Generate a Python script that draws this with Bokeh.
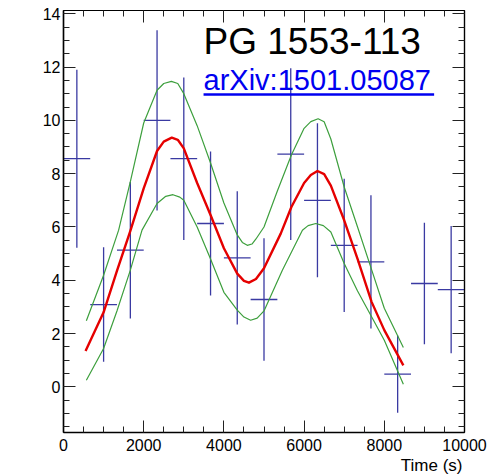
from bokeh.plotting import figure
from bokeh.models import (Range1d, LinearAxis, SingleIntervalTicker, Label, Title,
                          BoxAnnotation, ColumnDataSource, CustomLabelingPolicy)
from bokeh.embed import file_html
from bokeh.resources import INLINE

# ---- data ----
time_s = [333, 1000, 1667, 2333, 3000, 3667, 4333, 5000, 5667, 6333, 7000, 7667, 8333, 9000, 9667]
excess = [8.56, 3.09, 5.13, 10.0, 8.56, 6.13, 4.84, 3.28, 8.73, 7.0, 5.31, 4.69, 0.48, 3.88, 3.65]
excess_err = [3.34, 2.15, 2.56, 3.38, 3.05, 2.7, 2.5, 2.3, 3.22, 2.89, 2.5, 2.5, 1.45, 2.28, 2.39]
time_halfbin = [333.3, 333.3, 333.3, 333.3, 333.3, 333.3, 333.3, 333.3, 333.3, 333.3, 333.3, 333.3, 333.3, 333.3, 333.3]

fit_t = [550, 1000, 1333, 1667, 2000, 2333, 2500, 2700, 2850, 3000, 3333, 3667, 4000, 4333, 4500, 4625,
         4800, 5000, 5417, 5683, 6000, 6167, 6333, 6500, 6667, 7000, 7333, 7683, 8000, 8475]
fit_y = [1.35, 2.80, 4.35, 5.85, 7.45, 8.85, 9.2, 9.35, 9.27, 8.95, 7.65, 6.45, 5.20, 4.25, 3.98, 3.91,
         4.05, 4.45, 5.75, 6.75, 7.65, 7.95, 8.10, 7.98, 7.55, 6.25, 4.8, 3.19, 2.13, 0.81]

upper_t = [570, 1000, 1375, 1667, 2000, 2333, 2500, 2690, 2850, 3000, 3333, 3667, 4000, 4333, 4460, 4583,
           4700, 4800, 5000, 5333, 5683, 6000, 6167, 6350, 6500, 6667, 7000, 7333, 7683, 8000, 8475]
upper_y = [2.48, 4.19, 5.88, 7.7, 9.9, 11.13, 11.38, 11.46, 11.38, 11.0, 9.8, 8.4, 6.9, 5.7, 5.42, 5.31,
           5.36, 5.55, 6.0, 7.35, 8.7, 9.7, 9.95, 10.06, 9.95, 9.3, 7.5, 6.0, 4.4, 2.95, 1.48]

lower_t = [570, 1000, 1333, 1667, 1958, 2333, 2550, 2730, 2900, 3000, 3333, 3667, 4000, 4333, 4500, 4667,
           4830, 5000, 5458, 5958, 6100, 6292, 6480, 6667, 7000, 7333, 7683, 8000, 8475]
lower_y = [0.25, 1.44, 2.85, 4.38, 5.88, 6.88, 7.15, 7.21, 7.12, 7.0, 6.0, 4.8, 3.55, 2.88, 2.62, 2.5,
           2.58, 2.85, 4.38, 5.88, 6.05, 6.13, 6.05, 5.81, 4.63, 3.6, 2.63, 1.75, 0.1]

x_ticks_interval = 2000
y_ticks_interval = 2

# ---- figure ----
p = figure(width=490, height=475, output_backend="svg", toolbar_location=None,
           x_range=Range1d(0, 10000), y_range=Range1d(-1.71, 14.12),
           min_border_left=63, min_border_right=26, min_border_top=10, min_border_bottom=43)
p.background_fill_color = "white"
p.border_fill_color = "white"
p.outline_line_color = "black"
p.outline_line_width = 1.2
p.xgrid.visible = False
p.ygrid.visible = False

FONT = "Liberation Sans"

def style_axis(ax, show_labels=True, width=1.5):
    ax.axis_line_color = "black"
    ax.axis_line_width = width
    ax.major_tick_in = 12
    ax.major_tick_out = 0
    ax.minor_tick_in = 6
    ax.minor_tick_out = 0
    ax.major_tick_line_color = "#222222"
    ax.minor_tick_line_color = "#222222"
    ax.major_tick_line_width = 1
    ax.minor_tick_line_width = 1
    ax.major_label_text_font = FONT
    ax.major_label_text_color = "black"
    if show_labels:
        ax.major_label_text_font_size = "16px"
    else:
        ax.major_label_text_font_size = "1px"
        ax.major_label_standoff = 0
        ax.major_label_policy = CustomLabelingPolicy(code="return []")

xa = p.xaxis[0]
xa.ticker = SingleIntervalTicker(interval=x_ticks_interval, num_minor_ticks=4)
style_axis(xa)
xa.major_label_standoff = 6

ya = p.yaxis[0]
ya.ticker = SingleIntervalTicker(interval=y_ticks_interval, num_minor_ticks=4)
style_axis(ya)
ya.major_label_standoff = 3

ra = LinearAxis(ticker=SingleIntervalTicker(interval=y_ticks_interval, num_minor_ticks=4))
style_axis(ra, show_labels=False, width=1.2)
p.add_layout(ra, "right")

ta = LinearAxis(ticker=SingleIntervalTicker(interval=x_ticks_interval, num_minor_ticks=4))
style_axis(ta, show_labels=False, width=1.2)
p.add_layout(ta, "above")

# ---- data points with error bars ----
src = ColumnDataSource(dict(
    t=time_s, y=excess,
    ylo=[v - e for v, e in zip(excess, excess_err)],
    yhi=[v + e for v, e in zip(excess, excess_err)],
    tlo=[t - h for t, h in zip(time_s, time_halfbin)],
    thi=[t + h for t, h in zip(time_s, time_halfbin)],
))
bar_color = "#3a3aa2"
p.segment(x0="t", y0="ylo", x1="t", y1="yhi", source=src, line_color=bar_color, line_width=1.3)
p.segment(x0="tlo", y0="y", x1="thi", y1="y", source=src, line_color=bar_color, line_width=1.3)

# ---- fit curves ----
green = "#3d9f3d"
p.line(upper_t, upper_y, line_color=green, line_width=1.2, line_join="round")
p.line(lower_t, lower_y, line_color=green, line_width=1.2, line_join="round")
p.line(fit_t, fit_y, line_color="#e50000", line_width=2.4, line_join="round")

# ---- texts ----
def sx(px):
    return (px - 63.3) * 25.0

def sy(py):
    return (386.7 - py) / 26.67

p.add_layout(Label(x=sx(203), y=sy(41), text="PG 1553-113", text_font=FONT,
                   text_font_size="37px", text_color="black",
                   text_baseline="alphabetic", text_align="left"))
p.add_layout(Label(x=sx(203), y=sy(80), text="arXiv:1501.05087", text_font=FONT,
                   text_font_size="29px", text_color="#0000f0",
                   text_baseline="alphabetic", text_align="left"))
p.add_layout(BoxAnnotation(left=sx(203), right=sx(433), top=sy(93), bottom=sy(95.3),
                           fill_color="#0000f0", fill_alpha=1.0, line_alpha=0))
# x-axis title, right aligned below the axis
p.add_layout(Title(text="Time (s)", align="right", text_font=FONT, text_font_size="17px",
                   text_font_style="normal", text_color="black", standoff=0, offset=2),
             "below")
p.add_layout(Label(x=sx(27), y=sy(13), text="Excess", text_font=FONT,
                   text_font_size="16px", text_color="black", angle=1.5708,
                   text_baseline="middle", text_align="right"))

open("out.html", "w").write(file_html(p, INLINE))
